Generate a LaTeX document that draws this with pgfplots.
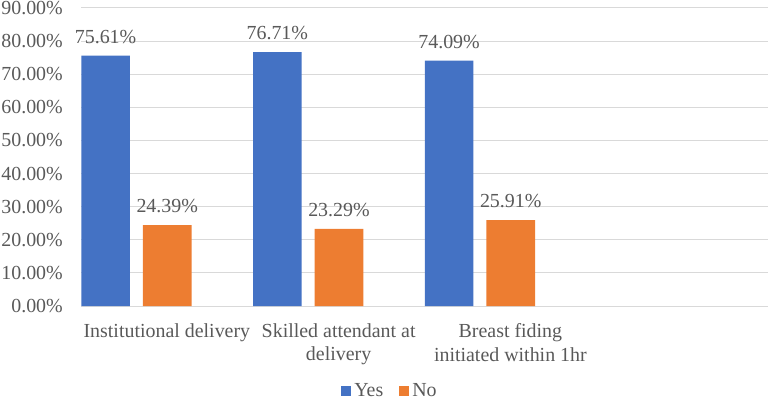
\documentclass[border=0pt]{standalone}
\usepackage{fontspec}
\setmainfont{Liberation Serif}
\usepackage{pgfplots}
\pgfplotsset{compat=1.18}
\definecolor{exblue}{HTML}{4472C4}
\definecolor{exorange}{HTML}{ED7D31}
\definecolor{extext}{HTML}{595959}
\definecolor{exgrid}{HTML}{D9D9D9}
\begin{document}
\begin{tikzpicture}[font=\fontsize{20}{24}\selectfont]
\begin{axis}[
  at={(81bp,94bp)}, anchor=south west,
  scale only axis, width=687bp, height=298bp,
  xmin=0, xmax=4, ymin=0, ymax=90,
  axis line style={draw=none},
  major tick length=0pt,
  ytick={0,10,...,90},
  yticklabels={0.00\%,10.00\%,20.00\%,30.00\%,40.00\%,50.00\%,60.00\%,70.00\%,80.00\%,90.00\%},
  yticklabel style={anchor=east, inner sep=0pt, xshift=-18bp, text=extext},
  xtick={0.5,1.5,2.5},
  xticklabels={Institutional delivery, Skilled attendant at\\delivery, Breast fiding\\initiated within 1hr},
  xticklabel style={anchor=north, inner sep=0pt, yshift=-17bp, align=center, text=extext},
  ymajorgrids, grid style={exgrid, line width=1bp},
  nodes near coords={\pgfmathprintnumber[fixed,fixed zerofill,precision=2,assume math mode=true]{\pgfplotspointmeta}\%},
  nodes near coords style={anchor=south, inner sep=0pt, yshift=12bp, text=extext},
  legend style={at={(0.4505,-0.284)}, anchor=center, draw=none, fill=none, legend columns=2, text=extext, nodes={inner xsep=3.5bp, inner ysep=0pt}, /tikz/every even column/.append style={column sep=12bp}},
  legend image code/.code={\fill[#1] (0bp,-5bp) rectangle (10bp,5bp);},
  clip=false,
]
\addplot[ybar, bar width=0.283, bar shift=0pt, fill=exblue, draw=none] coordinates {(0.143,75.61) (1.143,76.71) (2.143,74.09)};
\addplot[ybar, bar width=0.283, bar shift=0pt, fill=exorange, draw=none] coordinates {(0.502,24.39) (1.502,23.29) (2.502,25.91)};
\legend{Yes,No}
\end{axis}
\pgfresetboundingbox
\path[use as bounding box] (0,0) rectangle (770bp,400bp);
\end{tikzpicture}
\end{document}
